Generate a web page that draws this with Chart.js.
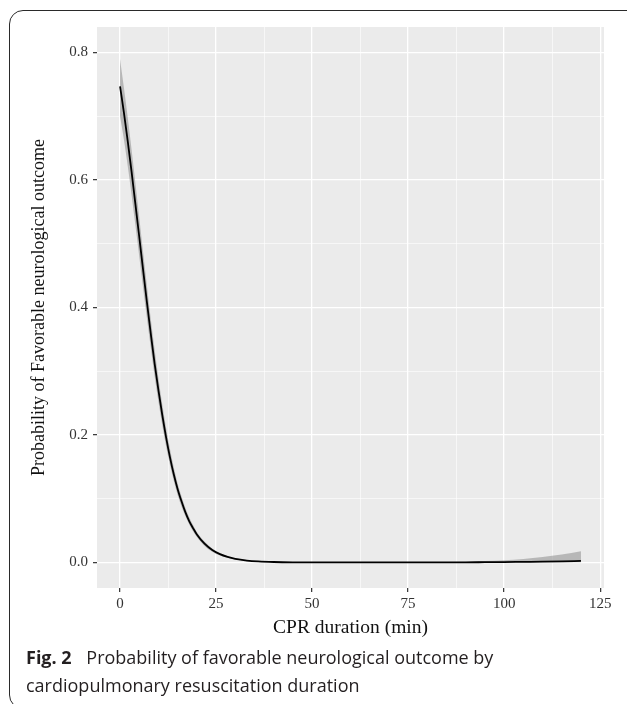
<!DOCTYPE html>
<html>
<head>
<meta charset="utf-8">
<script src="https://cdn.jsdelivr.net/npm/chart.js@4.4.1/dist/chart.umd.min.js"></script>
<style>
  html, body { margin: 0; padding: 0; background: #fff; }
  body { width: 627px; height: 704px; position: relative; overflow: hidden; }
  #frame {
    position: absolute; left: 9px; top: 10px; width: 640px; height: 697px;
    border: 1.4px solid #2a2a2a; border-radius: 14px;
  }
  #wrap { position: absolute; left: 0; top: 0; width: 627px; height: 650px; }
  #caption {
    position: absolute; left: 26px; top: 643px; width: 600px; white-space: nowrap;
    font-family: "Open Sans", "Noto Sans", sans-serif; font-size: 18px; line-height: 28px;
    color: #231f20;
  }
  #caption b { font-weight: 700; margin-right: 10px; }
</style>
</head>
<body>
<div id="frame"></div>
<div id="wrap"><canvas id="chart"></canvas></div>
<div id="caption"><b>Fig. 2</b> Probability of favorable neurological outcome by<br>cardiopulmonary resuscitation duration</div>
<script>
// ───── data ─────────────────────────────────────────────────────────────────
const CPR_MIN = [0, 1, 2, 3, 4, 5, 6, 7, 8, 9, 10, 11, 12, 13, 14, 15, 16, 17, 18, 19, 20,
  22, 24, 26, 28, 30, 33, 36, 40, 45, 50, 60, 70, 80, 90, 95, 100, 105, 110, 115, 120];
const PROB_FIT = [0.747, 0.706, 0.661, 0.613, 0.562, 0.511, 0.459, 0.408, 0.359, 0.312, 0.270,
  0.231, 0.196, 0.165, 0.138, 0.115, 0.096, 0.079, 0.065, 0.054, 0.044,
  0.0295, 0.0196, 0.0131, 0.0087, 0.0057, 0.0031, 0.0017, 0.0008, 0.0003, 0.0002,
  0.0001, 0.0001, 0.0002, 0.0003, 0.0005, 0.0007, 0.0010, 0.0013, 0.0018, 0.0025];
const PROB_UPPER = [0.790, 0.745, 0.698, 0.648, 0.595, 0.541, 0.487, 0.434, 0.382, 0.334, 0.289,
  0.248, 0.211, 0.178, 0.149, 0.124, 0.104, 0.086, 0.071, 0.059, 0.048,
  0.033, 0.022, 0.015, 0.010, 0.0068, 0.0038, 0.0021, 0.0010, 0.0005, 0.0004,
  0.0003, 0.0003, 0.0005, 0.0012, 0.0022, 0.0036, 0.0055, 0.0085, 0.0125, 0.0175];
const PROB_LOWER = [0.700, 0.664, 0.622, 0.577, 0.529, 0.480, 0.431, 0.383, 0.337, 0.292, 0.252,
  0.215, 0.182, 0.153, 0.128, 0.106, 0.088, 0.073, 0.060, 0.049, 0.040,
  0.026, 0.017, 0.011, 0.0075, 0.0048, 0.0025, 0.0013, 0.0005, 0.0001, 0.0000,
  0.0000, 0.0000, 0.0000, 0.0000, 0.0001, 0.0001, 0.0002, 0.0002, 0.0003, 0.0004];

const X_MAJOR = [0, 25, 50, 75, 100, 125];
const X_MINOR = [12.5, 37.5, 62.5, 87.5, 112.5];
const Y_MAJOR = [0, 0.2, 0.4, 0.6, 0.8];
const Y_MINOR = [0.1, 0.3, 0.5, 0.7];

const X_LABEL = 'CPR duration (min)';
const Y_LABEL = 'Probability of Favorable neurological outcome';

// ───── helpers ──────────────────────────────────────────────────────────────
function _pts(ys) {
  return CPR_MIN.map((x, i) => ({ x, y: ys[i] }));
}

function _isMajor(list, v) {
  return list.some((m) => Math.abs(m - v) < 1e-9);
}

function _setTicks(major, minor) {
  return (scale) => {
    scale.ticks = major.concat(minor).sort((a, b) => a - b).map((value) => ({ value }));
  };
}

const panelBg = {
  id: 'panelBg',
  beforeDraw(chart) {
    const { ctx, chartArea: a } = chart;
    ctx.save();
    ctx.fillStyle = '#ebebeb';
    ctx.fillRect(a.left, a.top, a.right - a.left, a.bottom - a.top);
    ctx.restore();
  },
};

const serif = '"Liberation Serif", "Times New Roman", serif';

new Chart(document.getElementById('chart'), {
  type: 'line',
  data: {
    datasets: [
      {
        label: 'fit',
        data: _pts(PROB_FIT),
        borderColor: '#000',
        borderWidth: 1.8,
        pointRadius: 0,
        fill: false,
        cubicInterpolationMode: 'monotone',
        order: 0,
      },
      {
        label: 'upper',
        data: _pts(PROB_UPPER),
        borderWidth: 0,
        pointRadius: 0,
        backgroundColor: 'rgba(140,140,140,0.55)',
        fill: '+1',
        cubicInterpolationMode: 'monotone',
        order: 1,
      },
      {
        label: 'lower',
        data: _pts(PROB_LOWER),
        borderWidth: 0,
        pointRadius: 0,
        fill: false,
        cubicInterpolationMode: 'monotone',
        order: 2,
      },
    ],
  },
  options: {
    responsive: true,
    maintainAspectRatio: false,
    animation: false,
    events: [],
    layout: { padding: { left: 0, top: 27, right: 23, bottom: 0 } },
    plugins: { legend: { display: false }, tooltip: { enabled: false } },
    scales: {
      x: {
        type: 'linear',
        min: -6,
        max: 126,
        afterBuildTicks: _setTicks(X_MAJOR, X_MINOR),
        afterFit(scale) { scale.height = 62; },
        border: { display: false },
        grid: {
          color: '#fff',
          lineWidth: (c) => (_isMajor(X_MAJOR, c.tick.value) ? 1.3 : 0.6),
          tickColor: (c) => (_isMajor(X_MAJOR, c.tick.value) ? '#333' : 'rgba(0,0,0,0)'),
          tickLength: 4,
          tickWidth: 1.2,
        },
        ticks: {
          autoSkip: false,
          maxRotation: 0,
          padding: 3,
          color: '#333',
          font: { family: serif, size: 15 },
          callback: (v) => (_isMajor(X_MAJOR, v) ? String(v) : ''),
        },
        title: {
          display: true,
          text: X_LABEL,
          color: '#111',
          font: { family: serif, size: 19.5 },
          padding: { top: 0, bottom: 10 },
        },
      },
      y: {
        type: 'linear',
        min: -0.04,
        max: 0.84,
        afterBuildTicks: _setTicks(Y_MAJOR, Y_MINOR),
        afterFit(scale) { scale.width = 97; },
        border: { display: false },
        grid: {
          color: '#fff',
          lineWidth: (c) => (_isMajor(Y_MAJOR, c.tick.value) ? 1.3 : 0.6),
          tickColor: (c) => (_isMajor(Y_MAJOR, c.tick.value) ? '#333' : 'rgba(0,0,0,0)'),
          tickLength: 4,
          tickWidth: 1.2,
        },
        ticks: {
          autoSkip: false,
          padding: 5,
          color: '#333',
          font: { family: serif, size: 15 },
          callback: (v) => (_isMajor(Y_MAJOR, v) ? v.toFixed(1) : ''),
        },
        title: {
          display: true,
          text: Y_LABEL,
          color: '#111',
          font: { family: serif, size: 18 },
          padding: { top: 28, bottom: 0 },
        },
      },
    },
  },
  plugins: [panelBg],
});
</script>
</body>
</html>
